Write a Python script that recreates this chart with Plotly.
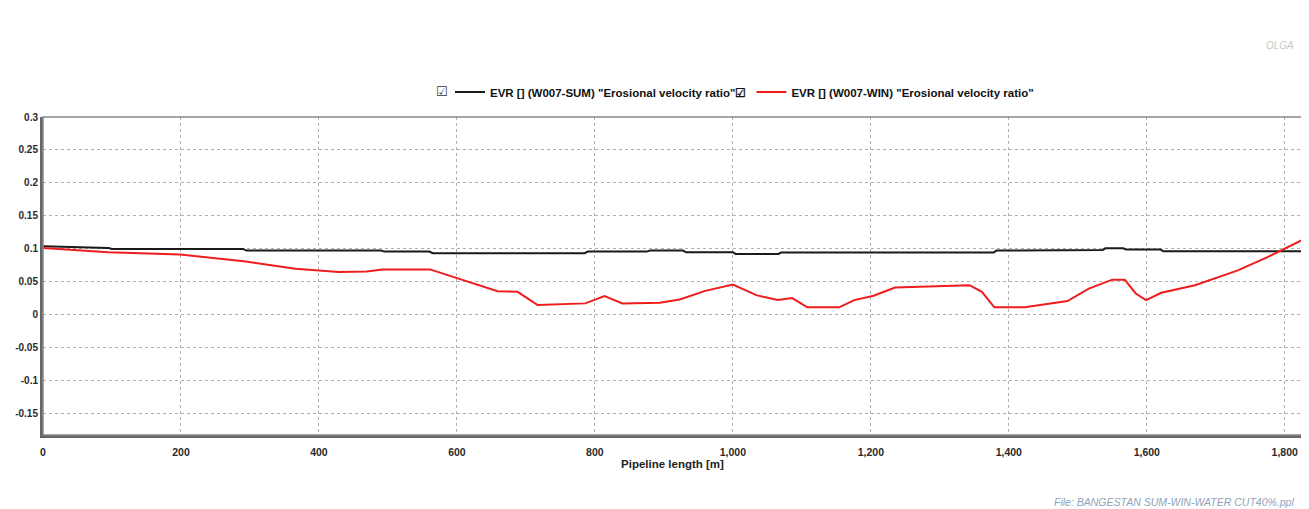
import plotly.graph_objects as go

# ---- data ----
sum_x = [0, 95, 100, 290, 295, 490, 495, 560, 565, 785, 790, 875, 880, 928, 932,
         1000, 1004, 1066, 1070, 1378, 1382, 1458, 1462, 1536, 1540, 1566, 1570, 1620, 1624, 1825]
sum_y = [0.104, 0.1015, 0.100, 0.100, 0.0975, 0.0975, 0.096, 0.096, 0.0935, 0.0935, 0.096, 0.096,
         0.0975, 0.0975, 0.095, 0.095, 0.0925, 0.0925, 0.0945, 0.0945, 0.0975, 0.0975,
         0.0985, 0.0985, 0.101, 0.101, 0.099, 0.099, 0.0965, 0.0965]

win_x = [0, 95, 199, 291, 366, 429, 469, 492, 561, 596, 659, 688, 717, 786, 814, 840, 894,
         923, 960, 1000, 1034, 1065, 1086, 1108, 1154, 1176, 1204, 1235, 1275, 1343, 1361, 1379,
         1423, 1485, 1516, 1550, 1568, 1584, 1599, 1621, 1670, 1732, 1775, 1825]
win_y = [0.1015, 0.095, 0.0915, 0.0815, 0.070, 0.065, 0.066, 0.069, 0.069, 0.0575, 0.036, 0.035,
         0.015, 0.0175, 0.0285, 0.0175, 0.0185, 0.0235, 0.0365, 0.046, 0.030, 0.0225, 0.0255, 0.0115,
         0.0115, 0.0225, 0.029, 0.0415, 0.0425, 0.045, 0.035, 0.0115, 0.0115, 0.021, 0.040, 0.0535,
         0.0535, 0.0325, 0.0225, 0.0335, 0.045, 0.0675, 0.0875, 0.1135]

series_names = ['EVR [] (W007-SUM) "Erosional velocity ratio"',
                'EVR [] (W007-WIN) "Erosional velocity ratio"']
y_tickvals = [0.3, 0.25, 0.2, 0.15, 0.1, 0.05, 0, -0.05, -0.1, -0.15]
y_ticktext = ["0.3", "0.25", "0.2", "0.15", "0.1", "0.05", "0", "-0.05", "-0.1", "-0.15"]
x_tickvals = [0, 200, 400, 600, 800, 1000, 1200, 1400, 1600, 1800]
x_ticktext = ["0", "200", "400", "600", "800", "1,000", "1,200", "1,400", "1,600", "1,800"]
checkbox = "☑"

font_main = "Liberation Sans, Arial, sans-serif"
OFF = 8  # page body margin
W, H = 1309 - OFF, 509 - OFF
# plot area in page pixels: x 43..1302, y 117..435
L, R, T, B = 43 - OFF, 1309 - 1302, 117 - OFF, 509 - 435
PW, PH = W - L - R, H - T - B


def px(xp):
    return (xp - OFF - L) / PW


def py(yp):
    return (H - B - (yp - OFF)) / PH


fig = go.Figure()
fig.add_trace(go.Scatter(x=sum_x, y=sum_y, mode="lines", name=series_names[0] + checkbox,
                         line=dict(color="#1a1a1a", width=2)))
fig.add_trace(go.Scatter(x=win_x, y=win_y, mode="lines", name=series_names[1],
                         line=dict(color="#ee1c1c", width=2)))

tick_font = dict(family=font_main, size=10, color="#2a2a2a", weight="bold")

fig.update_layout(
    width=W, height=H,
    margin=dict(l=L, r=R, t=T, b=B, autoexpand=False),
    paper_bgcolor="white", plot_bgcolor="white",
    font=dict(family=font_main, size=10, color="#222"),
    showlegend=True,
    legend=dict(orientation="h", x=px(450), xanchor="left", y=py(92), yanchor="middle",
                font=dict(family=font_main, size=11.5, color="#111", weight="bold"),
                itemwidth=30, tracegroupgap=0, bgcolor="rgba(0,0,0,0)"),
    xaxis=dict(range=[0, 1825], tickvals=x_tickvals, ticktext=x_ticktext, automargin=False,
               showgrid=True, gridcolor="#b0b0b0", griddash="dot", gridwidth=1,
               showline=True, linecolor="#666", linewidth=3, mirror=False,
               ticks="", zeroline=False, tickfont=dict(tick_font, size=10.5),
               ticklabelstandoff=5,
               title=dict(text="Pipeline length [m]", standoff=2,
                          font=dict(family=font_main, size=11.5, color="#222", weight="bold"))),
    yaxis=dict(range=[-0.182, 0.3], tickvals=y_tickvals, ticktext=y_ticktext, automargin=False,
               showgrid=True, gridcolor="#b0b0b0", griddash="dot", gridwidth=1,
               showline=True, linecolor="#666", linewidth=3, mirror=False,
               ticks="", zeroline=False, tickfont=tick_font),
)

# thin top/right frame
fig.add_shape(type="rect", xref="paper", yref="paper", x0=0, y0=0, x1=1, y1=1,
              line=dict(color="#888", width=1.5), layer="above")

# first checkbox glyph of the legend
fig.add_annotation(x=px(442), y=py(92), xref="paper", yref="paper",
                   text=checkbox, showarrow=False,
                   font=dict(family="DejaVu Sans", size=13, color="#333"),
                   xanchor="center", yanchor="middle")
# watermark and file note
fig.add_annotation(x=px(1296), y=py(46), xref="paper", yref="paper", text="<i>OLGA</i>",
                   showarrow=False, xanchor="right", yanchor="middle",
                   font=dict(family=font_main, size=10, color="#c8c8c8"))
fig.add_annotation(x=px(1296), y=py(502), xref="paper", yref="paper",
                   text="<i>File: BANGESTAN SUM-WIN-WATER CUT40%.ppl</i>",
                   showarrow=False, xanchor="right", yanchor="middle",
                   font=dict(family=font_main, size=10.5, color="#8fa3b8"))

fig.write_html("out.html")
